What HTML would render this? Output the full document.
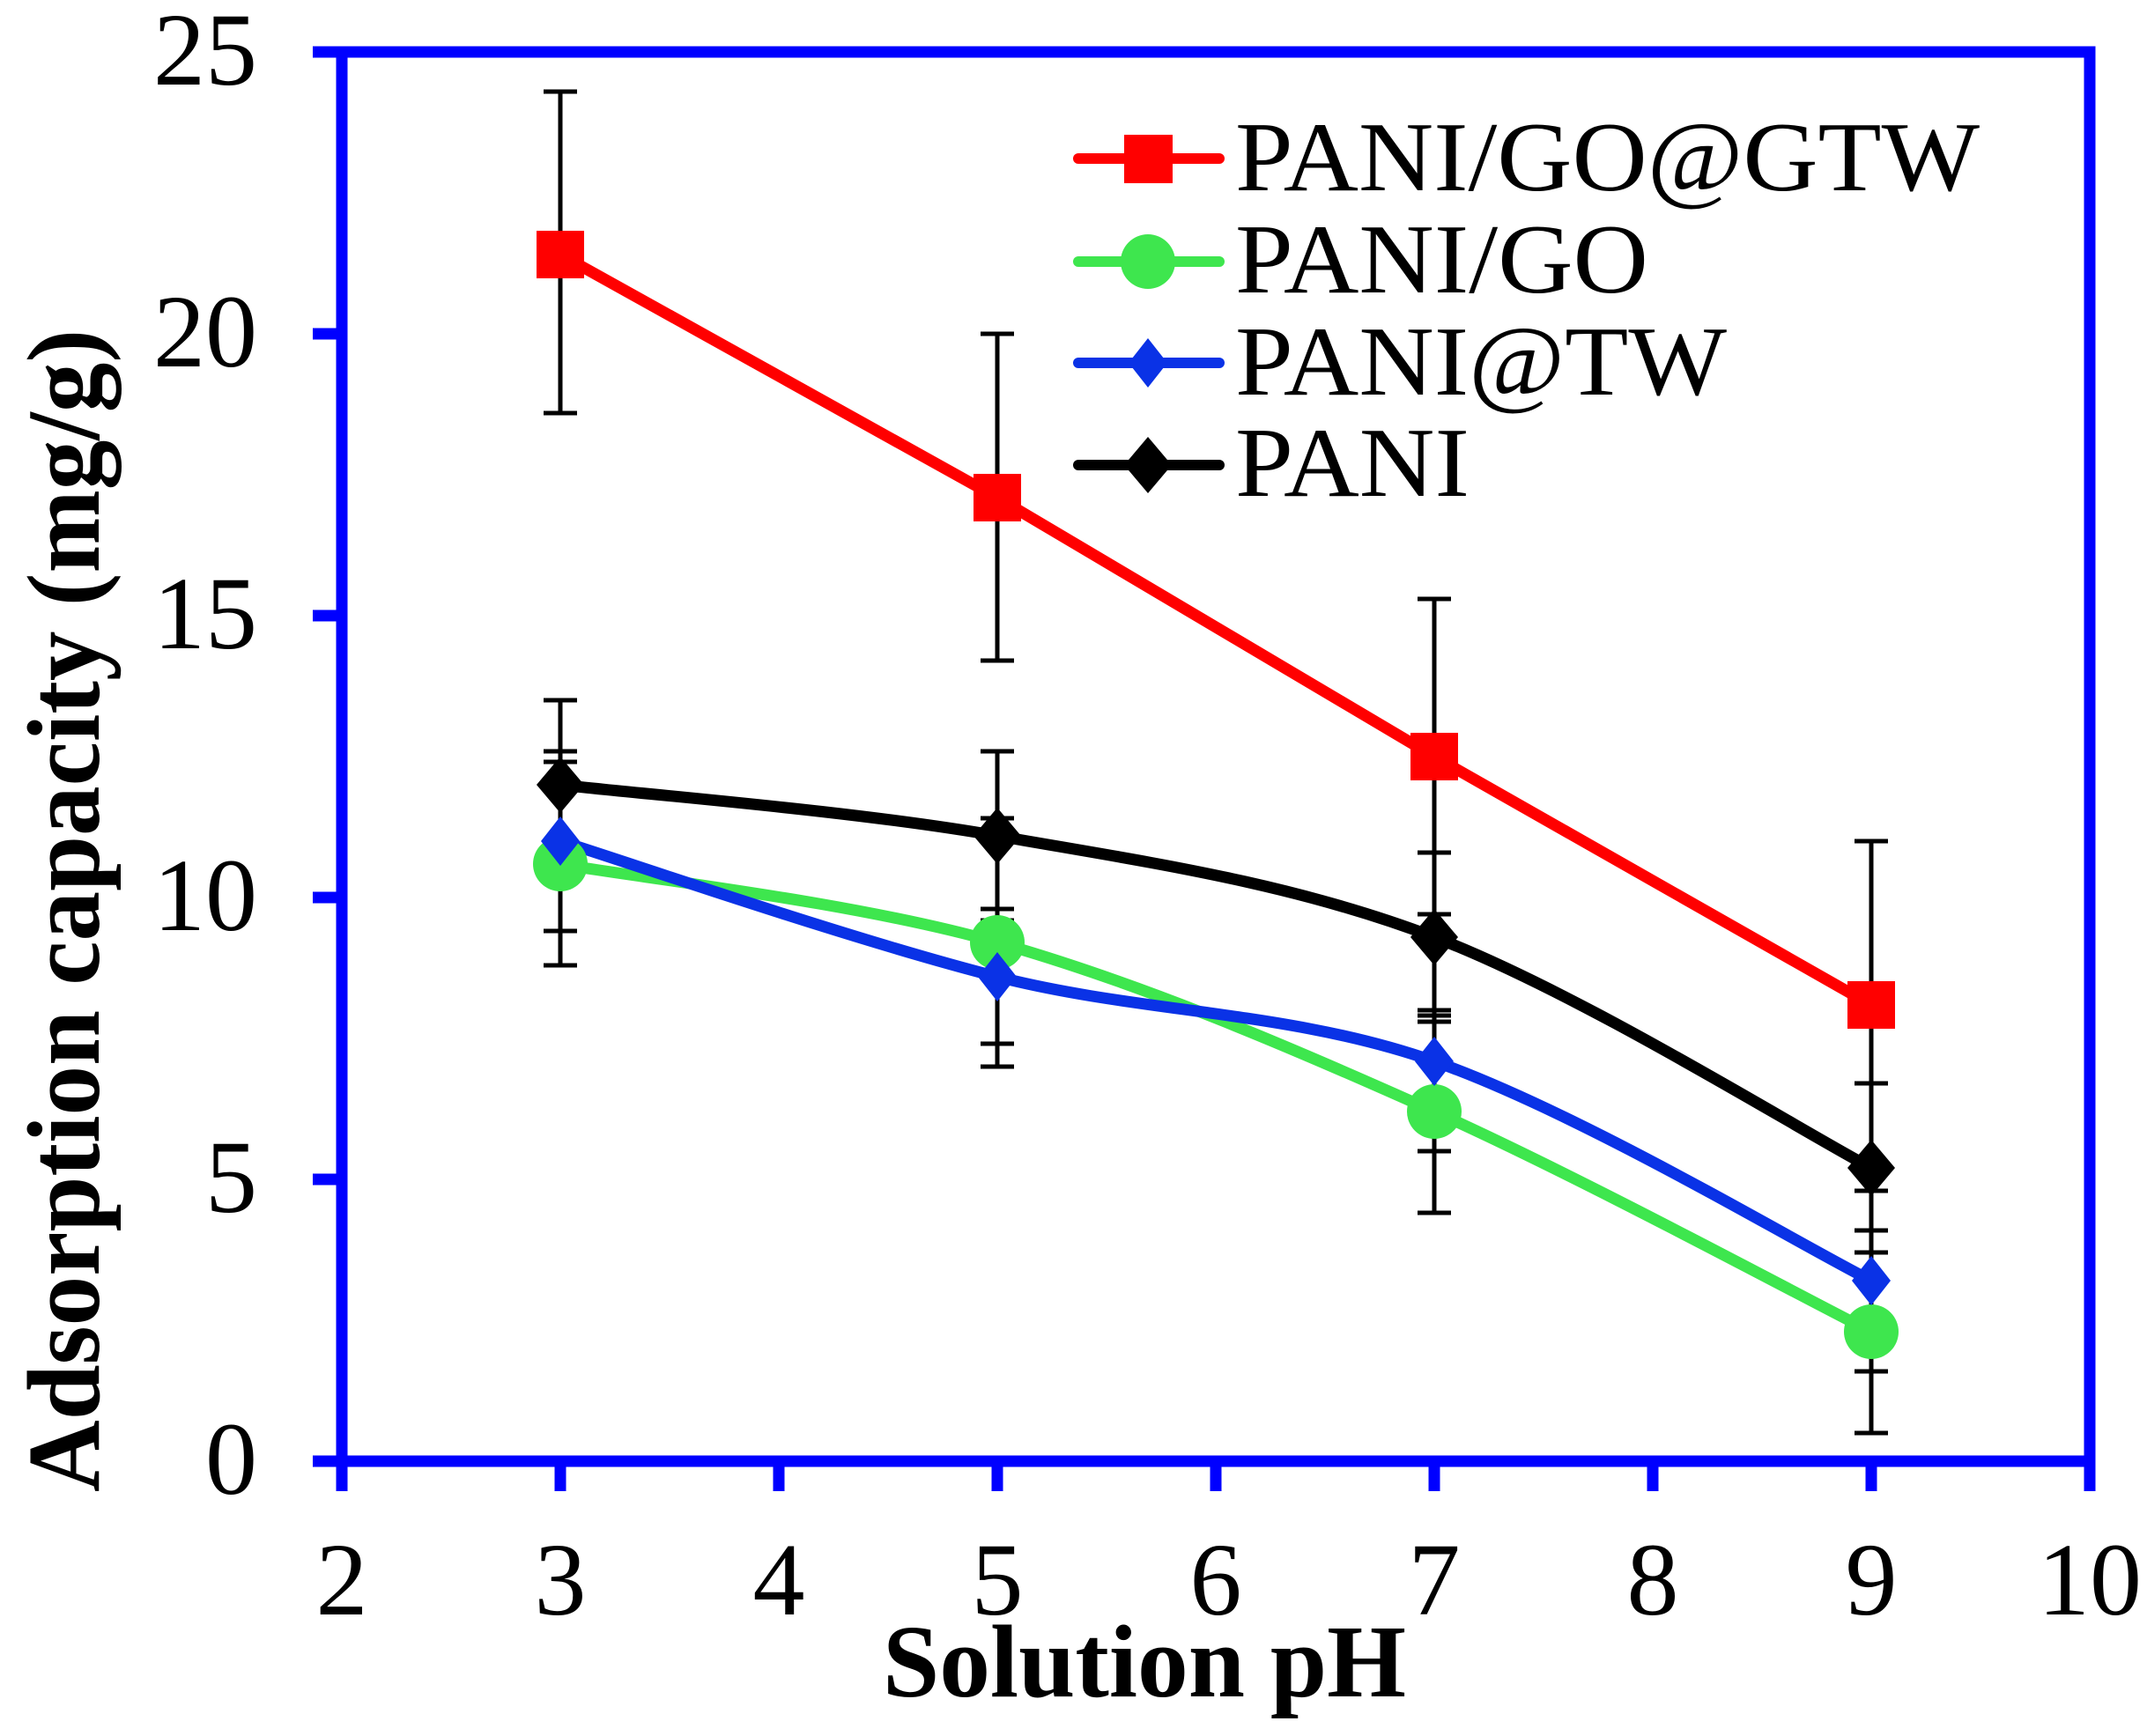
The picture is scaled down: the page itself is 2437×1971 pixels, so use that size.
<!DOCTYPE html>
<html><head><meta charset="utf-8"><style>html,body{margin:0;padding:0;background:#fff}svg{display:block}</style></head>
<body>
<svg width="2437" height="1971" viewBox="0 0 2437 1971" xmlns="http://www.w3.org/2000/svg">
<rect width="2437" height="1971" fill="#fff"/>
<g stroke="#0000ff" stroke-width="13" fill="none">
<rect x="388" y="59" width="1984" height="1600"/>
<line x1="355" y1="59" x2="388" y2="59"/><line x1="355" y1="379" x2="388" y2="379"/><line x1="355" y1="699" x2="388" y2="699"/><line x1="355" y1="1019" x2="388" y2="1019"/><line x1="355" y1="1339" x2="388" y2="1339"/><line x1="355" y1="1659" x2="388" y2="1659"/>
<line x1="388" y1="1659" x2="388" y2="1693"/><line x1="636" y1="1659" x2="636" y2="1693"/><line x1="884" y1="1659" x2="884" y2="1693"/><line x1="1132" y1="1659" x2="1132" y2="1693"/><line x1="1380" y1="1659" x2="1380" y2="1693"/><line x1="1628" y1="1659" x2="1628" y2="1693"/><line x1="1876" y1="1659" x2="1876" y2="1693"/><line x1="2124" y1="1659" x2="2124" y2="1693"/><line x1="2372" y1="1659" x2="2372" y2="1693"/>
</g>
<g font-family="Liberation Serif, serif" font-size="118" fill="#000" text-anchor="end">
<text x="292" y="96">25</text><text x="292" y="416">20</text><text x="292" y="736">15</text><text x="292" y="1056">10</text><text x="292" y="1376">5</text><text x="292" y="1696">0</text>
</g>
<g font-family="Liberation Serif, serif" font-size="118" fill="#000" text-anchor="middle">
<text x="388" y="1833">2</text><text x="636" y="1833">3</text><text x="884" y="1833">4</text><text x="1132" y="1833">5</text><text x="1380" y="1833">6</text><text x="1628" y="1833">7</text><text x="1876" y="1833">8</text><text x="2124" y="1833">9</text><text x="2372" y="1833">10</text>
</g>
<text x="1002" y="1926" font-family="Liberation Serif, serif" font-weight="bold" font-size="118" textLength="594" lengthAdjust="spacingAndGlyphs">Solution pH</text>
<text transform="translate(112,1694) rotate(-90)" x="0" y="0" font-family="Liberation Serif, serif" font-weight="bold" font-size="118" textLength="1320" lengthAdjust="spacingAndGlyphs">Adsorption capacity (mg/g)</text>

<g fill="none" stroke-width="13" stroke-linejoin="round" stroke-linecap="round">
<polyline stroke="#ff0000" points="636,289 1132,565 1628,859 2124,1141"/>
<path stroke="#3ee64e" d="M636,981 C719,996 967,1023 1132,1070 C1297,1117 1463,1188 1628,1262 C1793,1336 2041,1470 2124,1512"/>
<path stroke="#0a32e6" d="M636,955 C719,981 967,1067 1132,1109 C1297,1151 1463,1147 1628,1205 C1793,1263 2041,1412 2124,1454"/>
<path stroke="#000" d="M636,891 C719,901 967,920 1132,949 C1297,978 1463,1001 1628,1064 C1793,1127 2041,1282 2124,1326"/>
</g>
<g stroke="#000" stroke-width="5" fill="none">
<path d="M636,104V469M617,104H655M617,469H655 M1132,379V750M1113,379H1151M1113,750H1151 M1628,680V1038M1609,680H1647M1609,1038H1647 M2124,955V1326M2105,955H2143M2105,1326H2143"/>
<path d="M636,865V1096M617,865H655M617,1096H655 M1132,929V1211M1113,929H1151M1113,1211H1151 M1628,1147V1377M1609,1147H1647M1609,1377H1647 M2124,1397V1627M2105,1397H2143M2105,1627H2143"/>
<path d="M636,853V1057M617,853H655M617,1057H655 M1132,1032V1185M1113,1032H1151M1113,1185H1151 M1628,1153V1307M1609,1153H1647M1609,1307H1647 M2124,1352V1557M2105,1352H2143M2105,1557H2143"/>
<path d="M636,795V987M617,795H655M617,987H655 M1132,853V1045M1113,853H1151M1113,1045H1151 M1628,968V1160M1609,968H1647M1609,1160H1647 M2124,1230V1422M2105,1230H2143M2105,1422H2143"/>
</g>
<g fill="#ff0000">
<rect x="609" y="262" width="54" height="54"/><rect x="1105" y="538" width="54" height="54"/><rect x="1601" y="832" width="54" height="54"/><rect x="2097" y="1114" width="54" height="54"/>
</g>
<g fill="#3ee64e">
<circle cx="636" cy="981" r="31"/><circle cx="1132" cy="1070" r="31"/><circle cx="1628" cy="1262" r="31"/><circle cx="2124" cy="1512" r="31"/>
</g>
<g fill="#0a32e6">
<path d="M636,927 L658,955 L636,983 L614,955Z M1132,1081 L1154,1109 L1132,1137 L1110,1109Z M1628,1177 L1650,1205 L1628,1233 L1606,1205Z M2124,1426 L2146,1454 L2124,1482 L2102,1454Z"/>
</g>
<g fill="#000">
<path d="M636,859 L663,891 L636,923 L609,891Z M1132,917 L1159,949 L1132,981 L1105,949Z M1628,1032 L1655,1064 L1628,1096 L1601,1064Z M2124,1294 L2151,1326 L2124,1358 L2097,1326Z"/>
</g>
<g stroke-width="12" stroke-linecap="round">
<line x1="1224" y1="180" x2="1384" y2="180" stroke="#ff0000"/>
<line x1="1224" y1="297" x2="1384" y2="297" stroke="#3ee64e"/>
<line x1="1224" y1="412" x2="1384" y2="412" stroke="#0a32e6"/>
<line x1="1224" y1="528" x2="1384" y2="528" stroke="#000"/>
</g>
<rect x="1276" y="153" width="55" height="55" fill="#ff0000"/>
<circle cx="1303" cy="297" r="31" fill="#3ee64e"/>
<path d="M1303,384 L1325,412 L1303,440 L1281,412Z" fill="#0a32e6"/>
<path d="M1303,496 L1330,528 L1303,560 L1276,528Z" fill="#000"/>
<g font-family="Liberation Serif, serif" font-size="112" fill="#000">
<text x="1402" y="216" textLength="845" lengthAdjust="spacingAndGlyphs">PANI/GO@GTW</text>
<text x="1402" y="332" textLength="469" lengthAdjust="spacingAndGlyphs">PANI/GO</text>
<text x="1402" y="448" textLength="558" lengthAdjust="spacingAndGlyphs">PANI@TW</text>
<text x="1402" y="563" textLength="266" lengthAdjust="spacingAndGlyphs">PANI</text>
</g>
</svg>
</body></html>
